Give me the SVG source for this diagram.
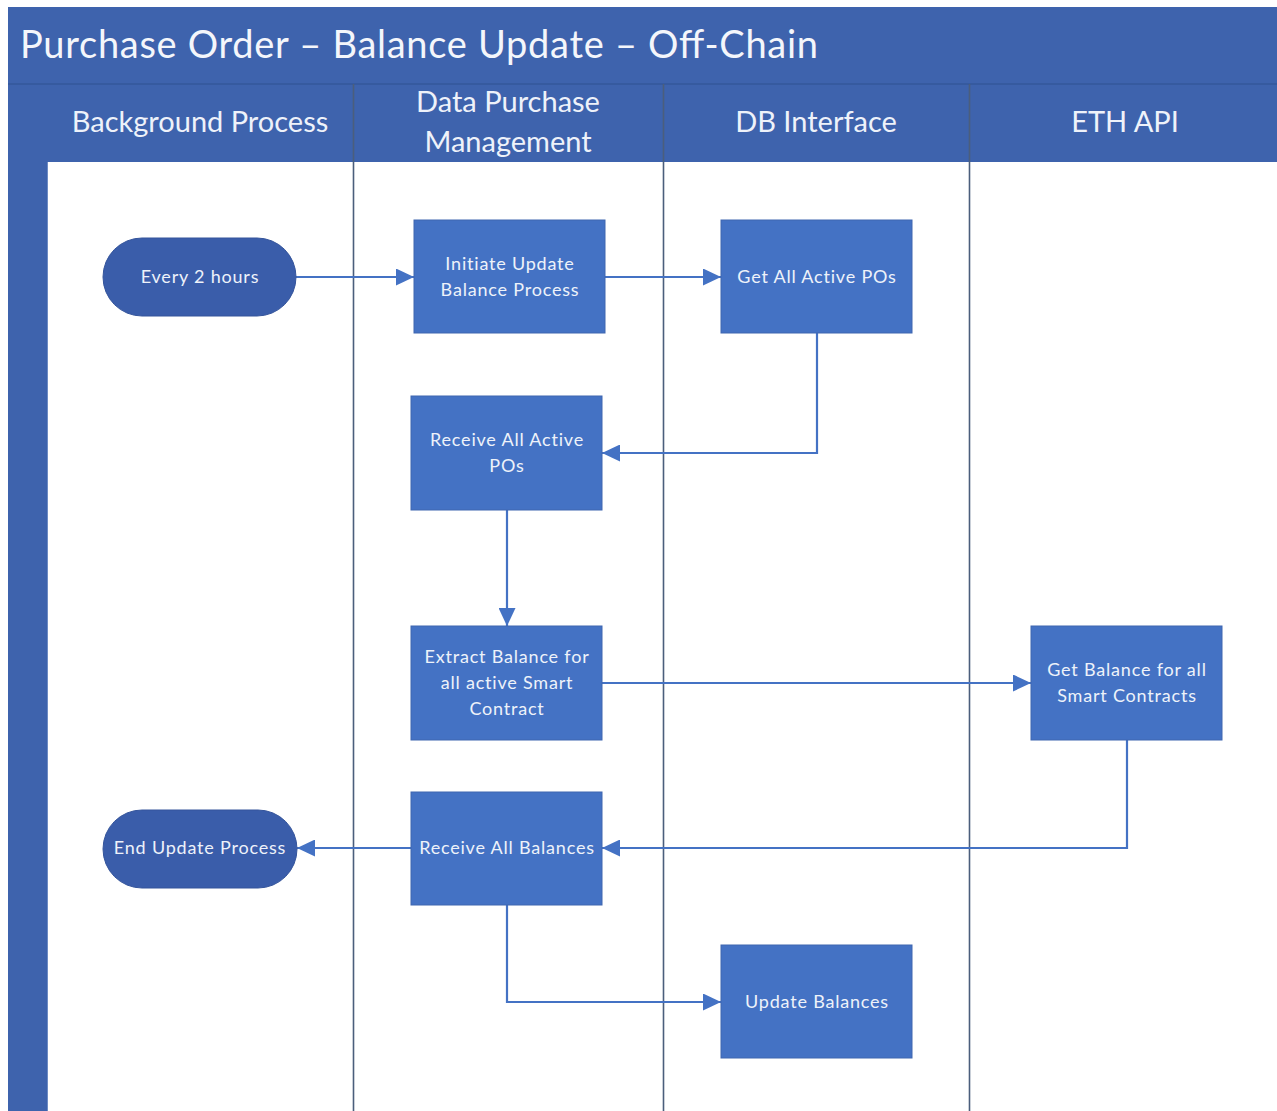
<svg xmlns="http://www.w3.org/2000/svg" width="1277" height="1111" viewBox="0 0 1277 1111">
  <defs>
    <marker id="arrow" viewBox="0 0 10 10" refX="10" refY="5" markerWidth="18" markerHeight="17" markerUnits="userSpaceOnUse" orient="auto" preserveAspectRatio="none">
      <path d="M0,0 L10,5 L0,10 z" fill="#4472C4"/>
    </marker>
    <style>
      .band { fill: #3E63AD; }
      .lane { stroke: #4B5E7C; stroke-width: 1.6; fill: none; }
      .title { font-family: Lato, "Open Sans", sans-serif; font-size: 38px; fill: #F4F6FB; }
      .hdr { font-family: Lato, "Open Sans", sans-serif; font-size: 29px; fill: #EEF2FA; text-anchor: middle; }
      .box { fill: #4472C4; stroke: #3F66B0; stroke-width: 1; }
      .term { fill: #3A5DAA; stroke: #34549B; stroke-width: 1; }
      .lbl { font-family: Lato, "Open Sans", sans-serif; font-size: 18px; letter-spacing: 0.8px; fill: #EEF2FA; text-anchor: middle; }
      .edge { stroke: #4472C4; stroke-width: 2.2; fill: none; marker-end: url(#arrow); }
    </style>
  </defs>

  <rect width="1277" height="1111" fill="#FFFFFF"/>

  <!-- pool frame: title band, left strip, lane header row -->
  <g id="pool">
    <rect class="band" x="8" y="7" width="1269" height="77"/>
    <rect class="band" x="8" y="84" width="39" height="1027"/>
    <rect class="band" x="47" y="84" width="1230" height="78"/>
    <line x1="8" y1="84" x2="1277" y2="84" stroke="#35579B" stroke-width="1.5"/>
    <text class="title" x="20" y="58" textLength="798" lengthAdjust="spacing">Purchase Order – Balance Update – Off-Chain</text>
  </g>

  <!-- lane dividers and lane titles -->
  <g id="lanes">
    <line class="lane" x1="353.5" y1="84" x2="353.5" y2="1111"/>
    <line class="lane" x1="663.5" y1="84" x2="663.5" y2="1111"/>
    <line class="lane" x1="969.5" y1="84" x2="969.5" y2="1111"/>
    <line x1="47.5" y1="162" x2="47.5" y2="1111" stroke="#6E8CC4" stroke-width="1"/>
    <text class="hdr" x="200" y="132">Background Process</text>
    <text class="hdr" x="508" y="112">Data Purchase</text>
    <text class="hdr" x="508" y="152">Management</text>
    <text class="hdr" x="816" y="132">DB Interface</text>
    <text class="hdr" x="1125" y="132">ETH API</text>
  </g>

  <!-- connectors -->
  <g id="connectors">
    <path class="edge" d="M296,277 H414"/>
    <path class="edge" d="M605,277 H721"/>
    <path class="edge" d="M817,333 V453 H602"/>
    <path class="edge" d="M507,510 V626"/>
    <path class="edge" d="M602,683 H1031"/>
    <path class="edge" d="M1127,740 V848 H602"/>
    <path class="edge" d="M411,848 H297"/>
    <path class="edge" d="M507,905 V1002 H721"/>
  </g>

  <g id="every-2-hours">
    <rect class="term" x="103" y="238" width="193" height="78" rx="39"/>
    <text class="lbl" x="200" y="283">Every 2 hours</text>
  </g>

  <g id="initiate-update">
    <rect class="box" x="414" y="220" width="191" height="113"/>
    <text class="lbl" x="510" y="270">Initiate Update</text>
    <text class="lbl" x="510" y="296">Balance Process</text>
  </g>

  <g id="get-active-pos">
    <rect class="box" x="721" y="220" width="191" height="113"/>
    <text class="lbl" x="817" y="283">Get All Active POs</text>
  </g>

  <g id="receive-active-pos">
    <rect class="box" x="411" y="396" width="191" height="114"/>
    <text class="lbl" x="507" y="446">Receive All Active</text>
    <text class="lbl" x="507" y="472">POs</text>
  </g>

  <g id="extract-balance">
    <rect class="box" x="411" y="626" width="191" height="114"/>
    <text class="lbl" x="507" y="663">Extract Balance for</text>
    <text class="lbl" x="507" y="689">all active Smart</text>
    <text class="lbl" x="507" y="715">Contract</text>
  </g>

  <g id="get-balance">
    <rect class="box" x="1031" y="626" width="191" height="114"/>
    <text class="lbl" x="1127" y="676">Get Balance for all</text>
    <text class="lbl" x="1127" y="702">Smart Contracts</text>
  </g>

  <g id="receive-balances">
    <rect class="box" x="411" y="792" width="191" height="113"/>
    <text class="lbl" x="507" y="854">Receive All Balances</text>
  </g>

  <g id="end-update">
    <rect class="term" x="103" y="810" width="194" height="78" rx="39"/>
    <text class="lbl" x="200" y="854">End Update Process</text>
  </g>

  <g id="update-balances">
    <rect class="box" x="721" y="945" width="191" height="113"/>
    <text class="lbl" x="817" y="1008">Update Balances</text>
  </g>
</svg>
